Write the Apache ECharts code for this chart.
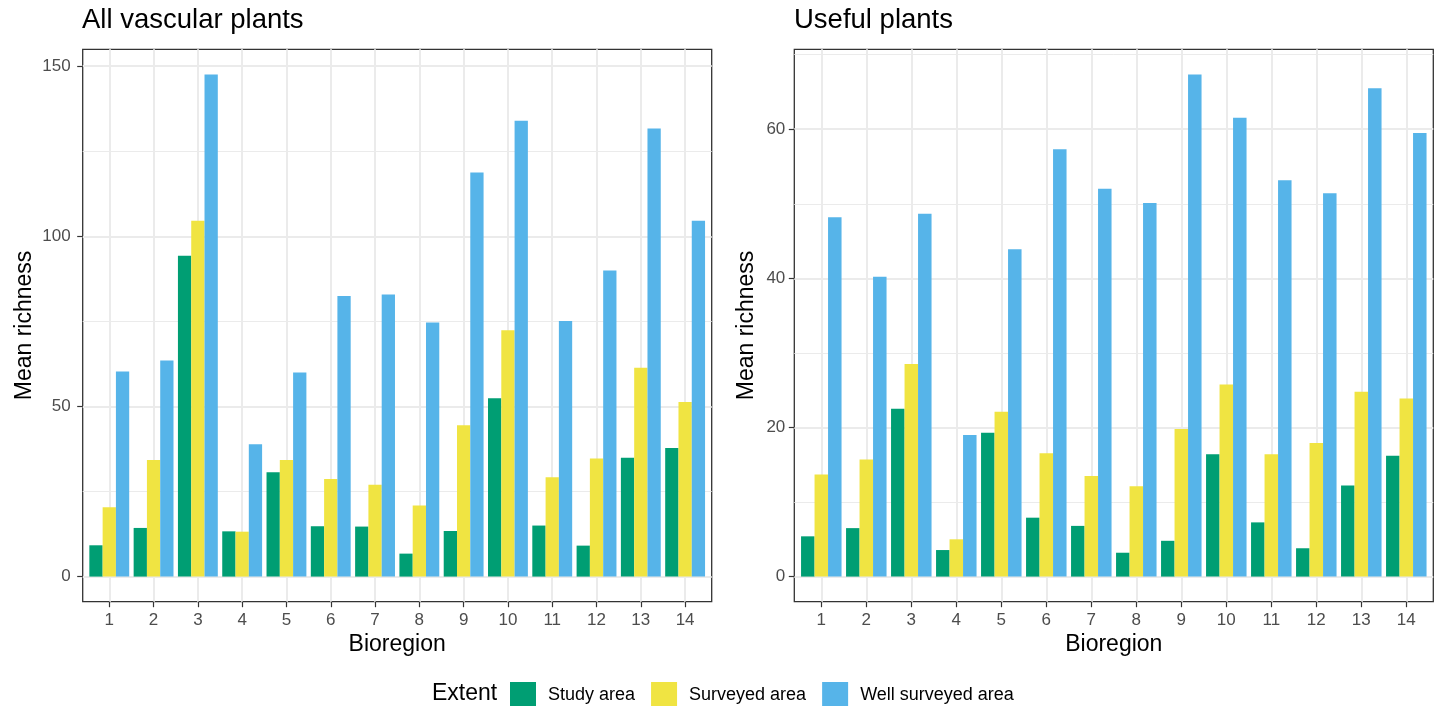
<!DOCTYPE html>
<html>
<head>
<meta charset="utf-8">
<script src="https://cdn.jsdelivr.net/npm/echarts@6/dist/echarts.min.js"></script>
<style>
html,body{margin:0;padding:0;background:#fff;}
#main{width:1439px;height:706px;}
</style>
</head>
<body>
<div id="main"></div>
<script>
// ---- data ----
const bioregions = [1,2,3,4,5,6,7,8,9,10,11,12,13,14];
const extentNames = ['Study area','Surveyed area','Well surveyed area'];
const extentColors = ['#009E73','#F0E442','#56B4E9'];

const allStudy    = [9.2,14.3,94.3,13.3,30.7,14.8,14.7,6.75,13.4,52.4,15.0,9.1,34.9,37.8];
const allSurveyed = [20.4,34.3,104.6,13.2,34.3,28.7,27.0,20.9,44.5,72.4,29.2,34.7,61.4,51.3];
const allWell     = [60.3,63.5,147.6,38.9,60.0,82.5,82.9,74.7,118.8,134.0,75.1,90.0,131.7,104.6];

const usefulStudy    = [5.4,6.5,22.5,3.56,19.3,7.9,6.8,3.2,4.8,16.4,7.27,3.8,12.2,16.2];
const usefulSurveyed = [13.7,15.7,28.5,5.0,22.1,16.55,13.5,12.1,19.8,25.75,16.4,17.9,24.8,23.9];
const usefulWell     = [48.2,40.2,48.65,19.0,43.9,57.3,52.0,50.1,67.35,61.55,53.15,51.4,65.5,59.5];

const allTicks = [0,50,100,150];
const allMinor = [25,75,125];
const usefulTicks = [0,20,40,60];
const usefulMinor = [10,30,50,70];

// ---- chart ----
const FONT = "'Liberation Sans', Arial, Helvetica, sans-serif";
const chart = echarts.init(document.getElementById('main'), null, {renderer:'canvas'});

function yRange(arrs){
  const mx = Math.max(...arrs.flat());
  return {min: -mx*0.05, max: mx*1.05};
}
const rAll = yRange([allStudy,allSurveyed,allWell]);
const rUse = yRange([usefulStudy,usefulSurveyed,usefulWell]);

function xAxisDef(gi){
  return {
    type:'value', gridIndex:gi, min:0.4, max:14.6,
    name:'Bioregion', nameLocation:'middle', nameGap:31,
    nameTextStyle:{fontSize:23, color:'#000', fontFamily:FONT},
    axisLine:{show:false, onZero:false},
    splitLine:{show:false},
    axisTick:{show:true, customValues:bioregions, length:5.5, lineStyle:{color:'#333', width:1.2}},
    axisLabel:{customValues:bioregions, color:'#4D4D4D', fontSize:17, margin:10, fontFamily:FONT}
  };
}
function yAxisDef(gi, r, ticks, gap, lm){
  return {
    type:'value', gridIndex:gi, min:r.min, max:r.max,
    name:'Mean richness', nameLocation:'middle', nameGap:gap,
    nameTextStyle:{fontSize:23, color:'#000', fontFamily:FONT},
    axisLine:{show:false, onZero:false},
    splitLine:{show:false},
    axisTick:{show:true, customValues:ticks, length:5.5, lineStyle:{color:'#333', width:1.2}},
    axisLabel:{customValues:ticks, color:'#4D4D4D', fontSize:17, margin:lm, fontFamily:FONT}
  };
}
function gridSeries(gi, major, minor){
  const lines = [];
  major.forEach(v=>lines.push({yAxis:v, lineStyle:{width:2}}));
  minor.forEach(v=>lines.push({yAxis:v, lineStyle:{width:1}}));
  bioregions.forEach(c=>lines.push({xAxis:c, lineStyle:{width:2}}));
  return {
    type:'line', xAxisIndex:gi, yAxisIndex:gi, z:0, silent:true,
    data: bioregions.map(c=>[c,0]), showSymbol:false, symbol:'none',
    lineStyle:{opacity:0}, tooltip:{show:false},
    markLine:{silent:true, symbol:'none', z:0, animation:false,
      label:{show:false}, emphasis:{disabled:true},
      lineStyle:{color:'#EBEBEB', type:'solid', width:2},
      data: lines}
  };
}
function barSeries(gi, name, vals, color){
  return {
    type:'bar', name:name, xAxisIndex:gi, yAxisIndex:gi, z:2,
    data: bioregions.map((c,i)=>[c, vals[i]]),
    barGap:'0%', barCategoryGap:'10%',
    itemStyle:{color:color, borderWidth:0},
    emphasis:{disabled:true}
  };
}

const option = {
  animation:false,
  backgroundColor:'#fff',
  textStyle:{fontFamily:FONT},
  title:[
    {text:'All vascular plants', left:82, top:6, padding:0,
     textStyle:{fontSize:27.5, fontWeight:'normal', color:'#000', fontFamily:FONT}},
    {text:'Useful plants', left:794, top:6, padding:0,
     textStyle:{fontSize:27.5, fontWeight:'normal', color:'#000', fontFamily:FONT}},
    {text:'Extent', left:432, top:682, padding:0,
     textStyle:{fontSize:23, fontWeight:'normal', color:'#000', fontFamily:FONT}}
  ],
  legend:{
    data:extentNames, left:510, top:682, padding:0,
    itemWidth:26, itemHeight:26, itemGap:16, icon:'rect',
    textStyle:{fontSize:18, color:'#000', fontFamily:FONT, padding:[0,0,0,7]},
    selectedMode:false
  },
  grid:[
    {left:82.7, top:49.3, width:629, height:552.4, show:true, borderColor:'#333', borderWidth:1.3, backgroundColor:'transparent', containLabel:false},
    {left:794.3, top:49.3, width:639, height:552.4, show:true, borderColor:'#333', borderWidth:1.3, backgroundColor:'transparent', containLabel:false}
  ],
  xAxis:[xAxisDef(0), xAxisDef(1)],
  yAxis:[yAxisDef(0, rAll, allTicks, 46.5, 12), yAxisDef(1, rUse, usefulTicks, 36.5, 9)],
  series:[
    gridSeries(0, allTicks, allMinor),
    gridSeries(1, usefulTicks, usefulMinor),
    barSeries(0, extentNames[0], allStudy, extentColors[0]),
    barSeries(0, extentNames[1], allSurveyed, extentColors[1]),
    barSeries(0, extentNames[2], allWell, extentColors[2]),
    barSeries(1, extentNames[0], usefulStudy, extentColors[0]),
    barSeries(1, extentNames[1], usefulSurveyed, extentColors[1]),
    barSeries(1, extentNames[2], usefulWell, extentColors[2])
  ]
};
chart.setOption(option);
</script>
</body>
</html>
